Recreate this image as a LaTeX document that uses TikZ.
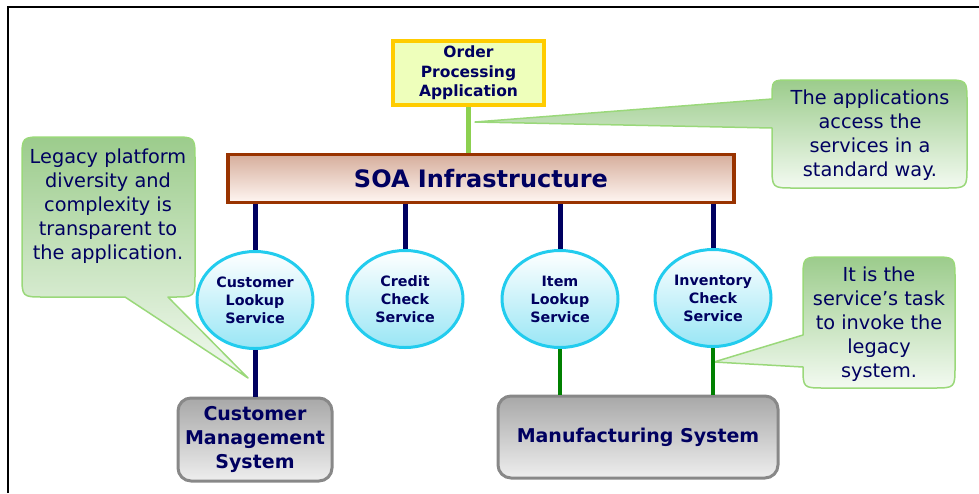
\documentclass[tikz,border=0pt]{standalone}
\usepackage{fontspec}
\setmainfont{DejaVu Sans}
\usetikzlibrary{shapes.geometric}
\definecolor{navy}{HTML}{000060}
\definecolor{appborder}{HTML}{FFCC00}
\definecolor{appfill}{HTML}{EEFFBB}
\definecolor{lightgreenline}{HTML}{8CD050}
\definecolor{soaborder}{HTML}{993300}
\definecolor{soatop}{HTML}{D6AE9C}
\definecolor{soabot}{HTML}{FFF6F2}
\definecolor{svcborder}{HTML}{22CCEE}
\definecolor{svcbot}{HTML}{99E6F5}
\definecolor{sysborder}{HTML}{888888}
\definecolor{systop}{HTML}{A8A8A8}
\definecolor{sysbot}{HTML}{EEEEEE}
\definecolor{darkgreenline}{HTML}{008000}
\definecolor{calltop}{HTML}{9CCC8C}
\definecolor{callbot}{HTML}{F3FAF1}
\definecolor{callborder}{HTML}{9AD87A}
\tikzset{
  appbox/.style={draw=appborder, line width=3.5pt, fill=appfill, minimum width=151pt, minimum height=64pt,
    inner sep=0pt, align=center, text=navy, font=\bfseries\fontsize{15.5}{19.5}\selectfont},
  soabox/.style={draw=soaborder, line width=3.5pt, top color=soatop, bottom color=soabot, minimum width=506pt,
    minimum height=48pt, inner sep=0pt, text=navy, font=\bfseries\fontsize{24}{28}\selectfont},
  svc/.style={ellipse, draw=svcborder, line width=3pt, top color=white, bottom color=svcbot, minimum width=116pt,
    minimum height=97pt, inner sep=0pt, align=center, text=navy, font=\bfseries\fontsize{14.3}{18}\selectfont},
  sysbox/.style={draw=sysborder, line width=3pt, rounded corners=13pt, top color=systop, bottom color=sysbot,
    inner sep=0pt, align=center, text=navy, font=\bfseries\fontsize{19}{24}\selectfont},
  navyline/.style={draw=navy, line width=5pt},
  appline/.style={draw=lightgreenline, line width=5pt},
  greenline/.style={draw=darkgreenline, line width=4pt},
  callout/.style={draw=callborder, line width=1.5pt, line join=round, top color=calltop, bottom color=callbot},
  calltext/.style={align=center, text=navy, inner sep=0pt, font=\fontsize{19.3}{24}\selectfont},
}
\begin{document}
\begin{tikzpicture}[x=1pt,y=-1pt]
\useasboundingbox (0,0) rectangle (979,493);
\draw[line width=2.5pt] (8,493) -- (8,7) -- (979,7);

% callouts
\path[callout] (44,137) -- (173,137) .. controls (195,137) .. (195,159) -- (195,275)
  .. controls (195,297) .. (173,297) -- (168,297) -- (248,378) -- (125,297) -- (44,297)
  .. controls (22,297) .. (22,275) -- (22,159) .. controls (22,137) .. (44,137) -- cycle;
\node[calltext] (t1) at (108,206) {Legacy platform\\diversity and\\complexity is\\transparent to\\the application.};

\path[callout] (790,80) -- (945,80) .. controls (967,80) .. (967,102) -- (967,166)
  .. controls (967,188) .. (945,188) -- (794,188) .. controls (772,188) .. (772,166)
  -- (772,128) -- (475,122) -- (772,99) -- (772,98) .. controls (772,80) .. (790,80) -- cycle;
\node[calltext] (t2) at (870,135) {The applications\\access the\\services in a\\standard way.};

\path[callout] (825,257) -- (933,257) .. controls (955,257) .. (955,279) -- (955,366)
  .. controls (955,388) .. (933,388) -- (825,388) .. controls (803,388) .. (803,367)
  -- (714,362) -- (803,335) -- (803,279) .. controls (803,257) .. (825,257) -- cycle;
\node[calltext] (t3) at (879,324) {It is the\\service’s task\\to invoke the\\legacy\\system.};

% nodes
\node[appbox] (app) at (468.5,73) {Order\\Processing\\Application};
\node[soabox] (soa) at (481,178.5) {SOA Infrastructure};
\node[svc] (cls) at (255,300) {Customer\\Lookup\\Service};
\node[svc] (ccs) at (405,299) {Credit\\Check\\Service};
\node[svc] (ils) at (560,299) {Item\\Lookup\\Service};
\node[svc] (ics) at (713,298) {Inventory\\Check\\Service};
\node[sysbox, minimum width=154pt, minimum height=83pt] (cms) at (255,439.5) {Customer\\Management\\System};
\node[sysbox, minimum width=280pt, minimum height=82pt] (mfg) at (638,437) {Manufacturing System};

% connectors
\draw[appline] (app.south) -- (app.south |- soa.north);
\foreach \s in {cls,ccs,ils,ics}{
  \draw[navyline] (\s.north |- soa.south) -- (\s.north);
}
\draw[navyline] (cls.south) -- (cms.north);
\draw[greenline] (ils.south) -- (ils.south |- mfg.north);
\draw[greenline] (ics.south) -- (ics.south |- mfg.north);
\end{tikzpicture}
\end{document}
